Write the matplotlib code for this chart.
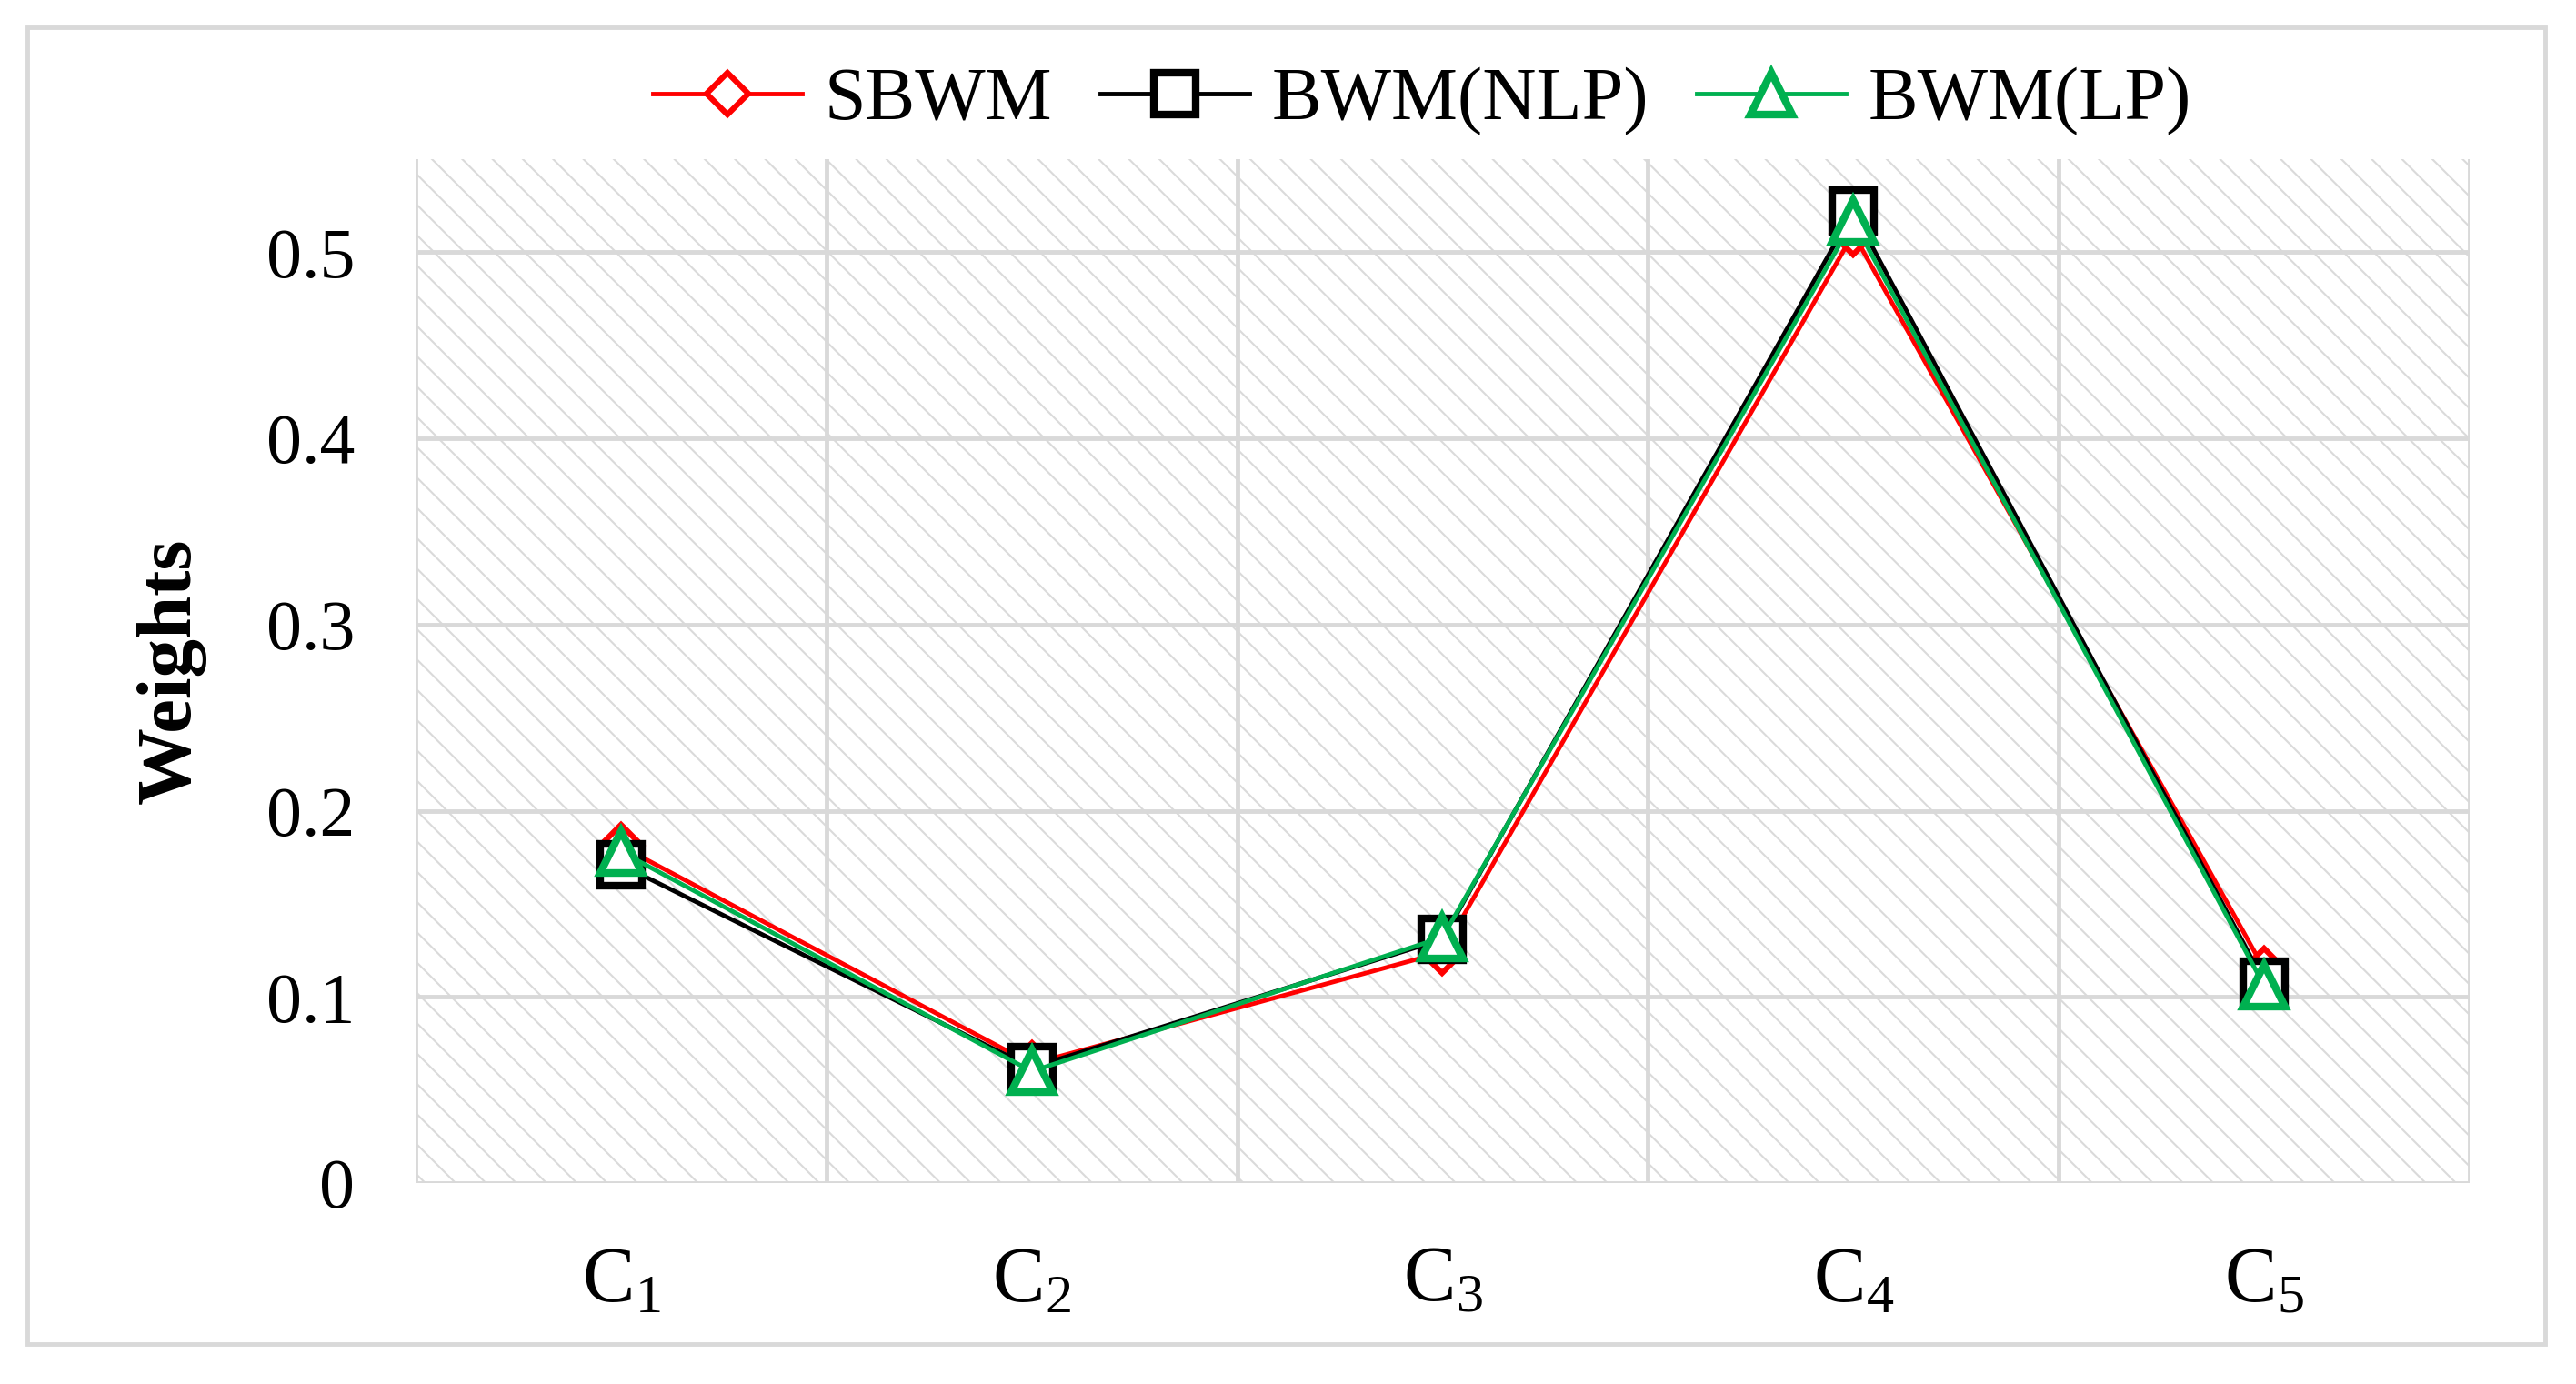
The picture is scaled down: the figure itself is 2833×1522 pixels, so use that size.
import numpy as np
import matplotlib
matplotlib.use("Agg")
import matplotlib.pyplot as plt
from matplotlib.patches import Rectangle

# criteria and weights
criteria = [r"$\mathrm{C}_{1}$", r"$\mathrm{C}_{2}$", r"$\mathrm{C}_{3}$",
            r"$\mathrm{C}_{4}$", r"$\mathrm{C}_{5}$"]
sbwm = [0.181, 0.064, 0.124, 0.510, 0.115]
bwm_nlp = [0.171, 0.062, 0.131, 0.522, 0.108]
bwm_lp = [0.178, 0.060, 0.132, 0.517, 0.106]
y_ticks = [0, 0.1, 0.2, 0.3, 0.4, 0.5]
y_tick_labels = ["0", "0.1", "0.2", "0.3", "0.4", "0.5"]

plt.rcParams["font.family"] = ["Liberation Serif", "DejaVu Serif"]
plt.rcParams["mathtext.fontset"] = "custom"
plt.rcParams["mathtext.rm"] = "Liberation Serif"
plt.rcParams["mathtext.it"] = "Liberation Serif:italic"
plt.rcParams["hatch.linewidth"] = 1.5

fig = plt.figure(figsize=(28.33, 15.22), dpi=100)
ax = fig.add_axes([0.1613, 0.1452, 0.7974, 0.7398])

# hatched plot area
bg = Rectangle((0, 0), 1, 1, transform=ax.transAxes, facecolor="white",
               edgecolor="#dadada", lw=0, hatch="\\", zorder=0.1)
ax.add_patch(bg)

x = np.arange(len(criteria))
ax.plot(x, sbwm, color="#ff0000", lw=3.5, marker="D", ms=23, mfc="white",
        mec="#ff0000", mew=4.5, label="SBWM", zorder=3)
ax.plot(x, bwm_nlp, color="#000000", lw=3.5, marker="s", ms=33, mfc="white",
        mec="#000000", mew=6, label="BWM(NLP)", zorder=4)
ax.plot(x, bwm_lp, color="#00b050", lw=3.5, marker="^", ms=33, mfc="white",
        mec="#00b050", mew=6, label="BWM(LP)", zorder=5)

ax.set_xlim(-0.5, 4.5)
ax.set_ylim(0, 0.55)
ax.set_xticks(x)
ax.set_xticklabels(criteria, fontsize=62)
ax.set_xticks(np.arange(-0.5, 5, 1), minor=True)
ax.set_yticks(y_ticks)
ax.set_yticklabels(y_tick_labels, fontsize=56)
ax.tick_params(axis="both", which="both", length=0)
ax.tick_params(axis="y", pad=48)
ax.tick_params(axis="x", pad=50)

ax.set_axisbelow(True)
ax.yaxis.grid(True, color="#d9d9d9", lw=3.5)
ax.xaxis.grid(True, which="minor", color="#d9d9d9", lw=3.5)
ax.xaxis.grid(False, which="major")
for s in ax.spines.values():
    s.set_visible(False)

ax.set_ylabel("Weights", fontsize=61, fontweight="bold")
ax.yaxis.set_label_coords(-0.102, 0.5)

ax.legend(loc="center", bbox_to_anchor=(0.49, 1.056), ncol=3, frameon=False,
          fontsize=59, handlelength=2.0, handletextpad=0.3, columnspacing=0.65,
          markerscale=1.0)

# outer frame
fig.add_artist(Rectangle((0.0106, 0.0289), 0.9774, 0.9514, transform=fig.transFigure,
                         fill=False, edgecolor="#d9d9d9", lw=3.5))

fig.savefig("out.png", dpi=100)
